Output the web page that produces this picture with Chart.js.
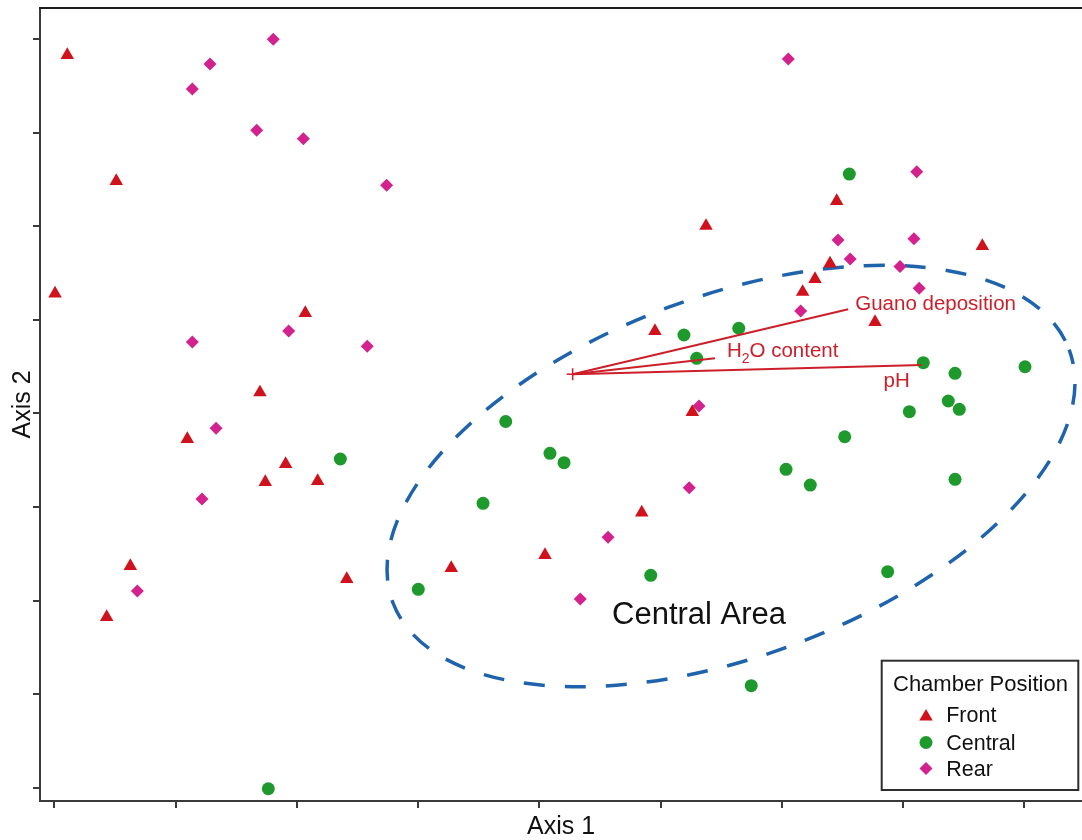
<!DOCTYPE html>
<html>
<head>
<meta charset="utf-8">
<title>Chamber Position ordination</title>
<script src="https://cdn.jsdelivr.net/npm/chart.js@4.4.1/dist/chart.umd.min.js"></script>
<style>
  html, body { margin: 0; padding: 0; background: #ffffff; }
  #wrap { width: 1082px; height: 840px; }
</style>
</head>
<body>
<div id="wrap"><canvas id="chart" width="1082" height="840"></canvas></div>
<script>
// ---- axes -------------------------------------------------------------
const xTickValues = [0, 1, 2, 3, 4, 5, 6, 7, 8];
const yTickValues = [0, 1, 2, 3, 4, 5, 6, 7, 8];
const xRange = [-0.118, 8.476];
const yRange = [-0.142, 8.331];
const xTitle = 'Axis 1';
const yTitle = 'Axis 2';

// ---- ordination scores by chamber position (Axis 1, Axis 2) ----------
const groupNames = ['Front', 'Central', 'Rear'];
const frontX = [0.107, 0.511, 0.006, 2.070, 1.696, 1.097, 1.908, 1.740, 2.172, 0.627, 0.432, 2.412,
                3.274, 4.047, 4.845, 4.954, 5.262, 5.375, 6.453, 6.398, 6.274, 6.172, 6.769, 7.654];
const frontY = [7.829, 6.482, 5.280, 5.072, 4.223, 3.726, 3.459, 3.266, 3.277, 2.369, 1.824, 2.230,
                2.347, 2.486, 2.940, 4.880, 4.014, 6.002, 6.269, 5.601, 5.435, 5.297, 4.976, 5.788];
const centralX = [2.359, 1.765, 3.723, 4.088, 4.204, 3.536, 3.002, 4.919, 5.193, 5.645, 5.298, 6.557,
                  7.167, 7.429, 8.006, 7.373, 7.464, 7.052, 6.519, 6.035, 6.235, 7.429, 6.873, 5.748];
const centralY = [3.512, -0.011, 3.913, 3.573, 3.473, 3.039, 2.120, 2.269, 4.837, 4.909, 4.588, 6.557,
                  4.541, 4.428, 4.498, 4.132, 4.043, 4.018, 3.750, 3.402, 3.234, 3.295, 2.308, 1.090];
const rearX = [1.806, 1.284, 1.138, 1.669, 2.054, 2.741, 1.933, 1.138, 2.581, 1.334, 1.218, 0.685,
               6.054, 7.113, 6.464, 7.090, 6.564, 6.975, 7.133, 6.156, 5.317, 5.237, 4.567, 4.338];
const rearY = [7.997, 7.733, 7.466, 7.024, 6.934, 6.437, 4.880, 4.762, 4.716, 3.840, 3.085, 2.102,
               7.786, 6.582, 5.852, 5.866, 5.649, 5.569, 5.336, 5.094, 4.078, 3.205, 2.675, 2.016];

// ---- environmental vectors ------------------------------------------
const vectorNames = ['Guano deposition', 'H2O content', 'pH'];
const vectorOrigin = [4.275, 4.417];
const vectorEndX = [6.548, 5.449, 7.154];
const vectorEndY = [5.112, 4.588, 4.517];

// ---- central area outline (ellipse: centre, end of major and minor semi-axes)
const areaName = 'Central Area';
const areaLabelAt = [4.600, 1.749];
const areaCenter = [5.581, 3.330];
const areaMajorEnd = [8.370, 4.681];
const areaMinorEnd = [6.101, 1.529];

const legendTitle = 'Chamber Position';

// ---- styles ---------------------------------------------------------
const FONT = '"Liberation Sans", Arial, Helvetica, sans-serif';
const RED = '#d0121d';
const GREEN = '#1e9a2c';
const MAGENTA = '#d3218e';
const VEC = '#cc1f2a';
const AREA_BLUE = '#1f63ad';
const AXIS_GREY = '#3a3a3a';

const zip = (xs, ys) => xs.map((x, i) => ({ x: x, y: ys[i] }));

const groupStyles = [
  { pointStyle: 'triangle', radius: 7.8, color: RED },
  { pointStyle: 'circle', radius: 6.5, color: GREEN },
  { pointStyle: 'rectRot', radius: 6.5, color: MAGENTA }
];
const groupData = [zip(frontX, frontY), zip(centralX, centralY), zip(rearX, rearY)];

const groupDatasets = groupNames.map((name, i) => ({
  label: name,
  data: groupData[i],
  order: i + 1,
  pointStyle: groupStyles[i].pointStyle,
  pointRadius: groupStyles[i].radius,
  pointBackgroundColor: groupStyles[i].color,
  pointBorderColor: groupStyles[i].color,
  pointBorderWidth: 0,
  showLine: false
}));

const vectorDatasets = vectorNames.map((name, i) => ({
  label: name,
  data: [{ x: vectorOrigin[0], y: vectorOrigin[1] }, { x: vectorEndX[i], y: vectorEndY[i] }],
  order: 0,
  showLine: true,
  borderColor: VEC,
  borderWidth: 2,
  pointStyle: 'cross',
  pointRadius: i === 0 ? [6, 0] : 0,
  pointBorderColor: VEC,
  pointBorderWidth: 1.5,
  pointBackgroundColor: VEC
}));

// Top frame line of the plotting box
const framePlugin = {
  id: 'frame',
  afterDraw(chart) {
    const { ctx, chartArea } = chart;
    ctx.save();
    ctx.strokeStyle = '#1c1c1c';
    ctx.lineWidth = 2;
    ctx.beginPath();
    ctx.moveTo(chartArea.left - 1, chartArea.top);
    ctx.lineTo(chart.width, chartArea.top);
    ctx.stroke();
    ctx.restore();
  }
};

// Dashed outline of the central area, placed through the axis scales
const areaPlugin = {
  id: 'centralArea',
  beforeDatasetsDraw(chart) {
    const { ctx } = chart;
    const sx = chart.scales.x, sy = chart.scales.y;
    const c = [sx.getPixelForValue(areaCenter[0]), sy.getPixelForValue(areaCenter[1])];
    const p1 = [sx.getPixelForValue(areaMajorEnd[0]), sy.getPixelForValue(areaMajorEnd[1])];
    const p2 = [sx.getPixelForValue(areaMinorEnd[0]), sy.getPixelForValue(areaMinorEnd[1])];
    const a = Math.hypot(p1[0] - c[0], p1[1] - c[1]);
    const b = Math.hypot(p2[0] - c[0], p2[1] - c[1]);
    const rot = Math.atan2(p1[1] - c[1], p1[0] - c[0]);
    ctx.save();
    ctx.strokeStyle = AREA_BLUE;
    ctx.lineWidth = 3.5;
    ctx.setLineDash([21, 20]);
    ctx.lineDashOffset = 6;
    ctx.beginPath();
    ctx.ellipse(c[0], c[1], a, b, rot, 0, Math.PI * 2);
    ctx.stroke();
    ctx.restore();
  },
  afterDatasetsDraw(chart) {
    const { ctx } = chart;
    const sx = chart.scales.x, sy = chart.scales.y;
    ctx.save();
    // area name
    ctx.fillStyle = '#111111';
    ctx.font = '31px ' + FONT;
    ctx.textAlign = 'left';
    ctx.textBaseline = 'alphabetic';
    ctx.fillText(areaName, sx.getPixelForValue(areaLabelAt[0]), sy.getPixelForValue(areaLabelAt[1]));

    // vector names next to the arrow tips
    const offsets = [[7, 1, 'left'], [12, -1, 'left'], [-12, 22, 'right']];
    ctx.fillStyle = VEC;
    vectorNames.forEach((name, i) => {
      const ex = sx.getPixelForValue(vectorEndX[i]);
      const ey = sy.getPixelForValue(vectorEndY[i]);
      const parts = name.split(/(\d)/).filter(s => s.length);
      const main = '20.5px ' + FONT, sub = '14px ' + FONT;
      let width = 0;
      parts.forEach(p => { ctx.font = /^\d$/.test(p) ? sub : main; width += ctx.measureText(p).width; });
      let x = ex + offsets[i][0];
      const y = ey + offsets[i][1];
      if (offsets[i][2] === 'right') x -= width;
      ctx.textAlign = 'left';
      parts.forEach(p => {
        const isSub = /^\d$/.test(p);
        ctx.font = isSub ? sub : main;
        ctx.fillText(p, x, isSub ? y + 5.5 : y);
        x += ctx.measureText(p).width;
      });
    });
    ctx.restore();
  }
};

// Boxed legend in the lower right corner of the plot
const legendPlugin = {
  id: 'chamberLegend',
  afterDraw(chart) {
    const { ctx, chartArea } = chart;
    const w = 196.6, h = 129.3;
    const right = chartArea.right - 3.7, bottom = chartArea.bottom - 11;
    const left = right - w, top = bottom - h;
    ctx.save();
    ctx.fillStyle = '#ffffff';
    ctx.fillRect(left, top, w, h);
    ctx.strokeStyle = '#2e2e2e';
    ctx.lineWidth = 2;
    ctx.strokeRect(left, top, w, h);

    ctx.fillStyle = '#111111';
    ctx.textAlign = 'left';
    ctx.textBaseline = 'alphabetic';
    ctx.font = '22px ' + FONT;
    ctx.fillText(legendTitle, left + 11.3, top + 30.3);

    const markerY = [56, 81.8, 107.8];
    const textY = [61, 88.8, 115.6];
    ctx.font = '21.5px ' + FONT;
    groupNames.forEach((name, i) => {
      const st = groupStyles[i];
      ctx.fillStyle = st.color;
      ctx.strokeStyle = st.color;
      const opts = { pointStyle: st.pointStyle, radius: st.radius, rotation: 0, borderWidth: 0 };
      if (Chart.helpers && Chart.helpers.drawPoint) {
        ctx.lineWidth = 0.001;
        Chart.helpers.drawPoint(ctx, opts, left + 44.3, top + markerY[i]);
      }
      ctx.fillStyle = '#111111';
      ctx.fillText(name, left + 64.5, top + textY[i]);
    });
    ctx.restore();
  }
};

const axisCommon = {
  type: 'linear',
  grid: {
    display: true,
    drawOnChartArea: false,
    drawTicks: true,
    tickLength: 7,
    color: AXIS_GREY,
    lineWidth: 2
  },
  border: { display: true, color: AXIS_GREY, width: 2 },
  ticks: { display: false }
};

new Chart(document.getElementById('chart'), {
  type: 'scatter',
  data: { datasets: vectorDatasets.concat(groupDatasets) },
  options: {
    responsive: false,
    animation: false,
    events: [],
    layout: { autoPadding: false, padding: { top: 8, right: 0, bottom: 0, left: 0 } },
    plugins: { legend: { display: false }, tooltip: { enabled: false }, title: { display: false } },
    scales: {
      x: Object.assign({}, axisCommon, {
        position: 'bottom',
        min: xRange[0],
        max: xRange[1],
        afterBuildTicks: s => { s.ticks = xTickValues.map(v => ({ value: v })); },
        afterFit: s => { s.height = 39; },
        title: {
          display: true, text: xTitle, color: '#111111',
          font: { family: FONT, size: 25, lineHeight: 1.0 },
          padding: { top: 0, bottom: 0 }
        }
      }),
      y: Object.assign({}, axisCommon, {
        position: 'left',
        min: yRange[0],
        max: yRange[1],
        afterBuildTicks: s => { s.ticks = yTickValues.map(v => ({ value: v })); },
        afterFit: s => { s.width = 40; },
        title: {
          display: true, text: yTitle, color: '#111111',
          font: { family: FONT, size: 25, lineHeight: 1.0 },
          padding: { top: 10.5, bottom: 0 }
        }
      })
    }
  },
  plugins: [framePlugin, areaPlugin, legendPlugin]
});
</script>
</body>
</html>
